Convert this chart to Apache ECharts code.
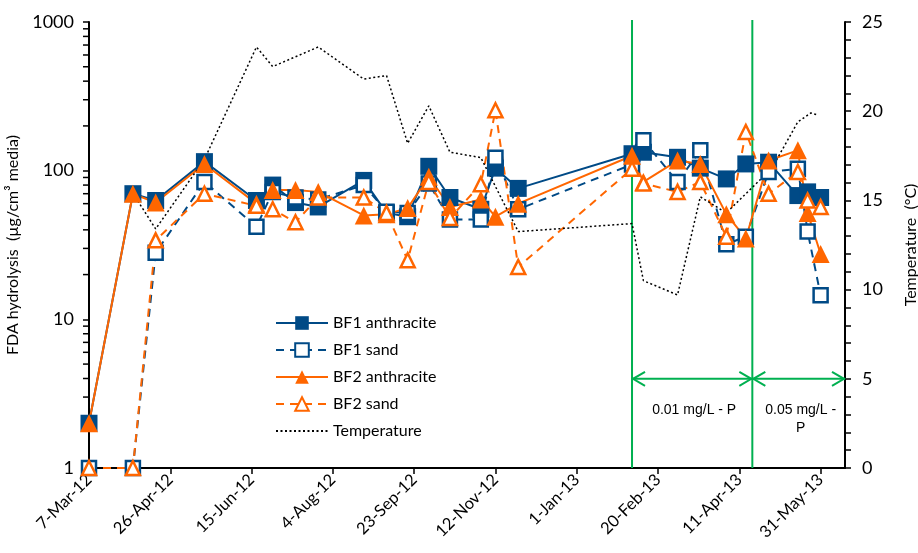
<!DOCTYPE html>
<html><head><meta charset="utf-8">
<script src="https://cdn.jsdelivr.net/npm/echarts@6/dist/echarts.min.js"></script>
<style>html,body{margin:0;padding:0;background:#fff}#c{width:918px;height:553px}</style>
</head><body><div id="c"></div>
<script>
const startDate = '2012-03-07';
const endDate = '2013-06-15';
const tickLabels = ['7-Mar-12','26-Apr-12','15-Jun-12','4-Aug-12','23-Sep-12','12-Nov-12','1-Jan-13','20-Feb-13','11-Apr-13','31-May-13'];
const sampleDates = ['2012-03-07','2012-04-03','2012-04-17','2012-05-17','2012-06-18','2012-06-28','2012-07-12','2012-07-26','2012-08-23','2012-09-06','2012-09-19','2012-10-02','2012-10-15','2012-11-03','2012-11-12','2012-11-26','2013-02-04','2013-02-11','2013-03-04','2013-03-18','2013-04-03','2013-04-15','2013-04-29','2013-05-17','2013-05-23','2013-05-31'];
const bf1Anthracite = [2, 70, 63, 115, 63, 80, 61, 57, 86, 52, 49, 107, 66, 55, 104, 76, 130, 133, 123, 104, 88, 111, 114, 68, 72, 66];
const bf1Sand = [1, 1, 28, 84, 42, 72, 66, 64, 80, 53, 52, 82, 47, 47, 122, 55, 110, 160, 84, 137, 32, 36, 98, 103, 39, 14.5];
const bf2Anthracite = [2, 70, 61, 111, 60, 74, 74, 72, 50, 51, 56, 91, 57, 64, 49, 60, 126, 84, 117, 111, 51, 35, 117, 137, 52, 27.5];
const bf2Sand = [1, 1, 34, 70, 58, 55, 45, 66, 66, 52, 25, 84, 48, 81, 255, 22.5, 103, 82, 72, 84, 36, 182, 70, 98, 63, 57];
const tempDates = ['2012-04-03','2012-04-17','2012-05-17','2012-06-18','2012-06-28','2012-07-26','2012-08-23','2012-09-06','2012-09-19','2012-10-02','2012-10-15','2012-11-03','2012-11-26','2013-02-04','2013-02-11','2013-03-04','2013-03-18','2013-04-03','2013-05-01','2013-05-17','2013-05-25','2013-05-29'];
const temperature = [15.4, 13.4, 17.3, 23.6, 22.5, 23.6, 21.8, 22.0, 18.2, 20.3, 17.7, 17.4, 13.25, 13.7, 10.5, 9.7, 15.2, 14.3, 16.8, 19.4, 19.9, 19.8];
const phaseDates = ['2013-02-04', '2013-04-19', '2013-06-15'];
const phaseLabels = ['0.01 mg/L - P', '0.05 mg/L -\nP'];
const phaseArrowTemp = 5;

const BLUE = '#004A86', ORANGE = '#FF6600', GREEN = '#00B050';
const FONT = 'Lato';
const day = s => (Date.parse(s) - Date.parse(startDate)) / 86400000;
const xMax = day(endDate);
const tickDays = tickLabels.map((_, i) => i * 50);
const pairs = (dates, vals) => dates.map((d, i) => [day(d), vals[i]]);
const minorTickValues = [];
[1, 10, 100].forEach(d => { for (let k = 2; k <= 9; k++) minorTickValues.push(d * k); });

const chart = echarts.init(document.getElementById('c'), null, {renderer: 'canvas'});
const axisLineStyle = {color: '#000', width: 2};
chart.setOption({
  animation: false,
  backgroundColor: '#fff',
  grid: {left: 89, right: 73, top: 22, bottom: 85, containLabel: false, outerBoundsMode: 'none'},
  legend: {
    data: ['BF1 anthracite', 'BF1 sand', 'BF2 anthracite', 'BF2 sand', {name: 'Temperature', itemStyle: {opacity: 0}}],
    orient: 'vertical', left: 270, top: 310, itemWidth: 52, itemHeight: 17, itemGap: 11,
    textStyle: {fontFamily: FONT, fontSize: 16, color: '#000'}
  },
  xAxis: {
    type: 'value', min: 0, max: xMax, interval: 50,
    splitLine: {show: false},
    axisLine: {show: true, onZero: false, lineStyle: axisLineStyle},
    axisTick: {show: true, length: 6, lineStyle: {color: '#000', width: 1.5}, customValues: tickDays},
    axisLabel: {customValues: tickDays, rotate: 45, margin: 9, fontFamily: FONT, fontSize: 16.5, color: '#000',
      formatter: v => tickLabels[Math.round(v / 50)] || ''}
  },
  yAxis: [{
    type: 'log', logBase: 10, min: 1, max: 1000,
    name: 'FDA hydrolysis  (µg/cm³ media)', nameLocation: 'middle', nameGap: 63, nameRotate: 90,
    nameTextStyle: {fontFamily: FONT, fontSize: 16, color: '#000'},
    splitLine: {show: false},
    axisLine: {show: true, onZero: false, lineStyle: axisLineStyle},
    axisTick: {show: true, length: 6, lineStyle: {color: '#000', width: 1.5}},
    axisLabel: {fontFamily: FONT, fontSize: 18, color: '#000', margin: 15, formatter: v => String(Math.round(v))}
  }, {
    type: 'value', min: 0, max: 25, interval: 5, position: 'right',
    name: 'Temperature  (°C)', nameLocation: 'middle', nameGap: 58, nameRotate: 90,
    nameTextStyle: {fontFamily: FONT, fontSize: 16, color: '#000'},
    splitLine: {show: false},
    axisLine: {show: true, onZero: false, lineStyle: axisLineStyle},
    axisTick: {show: true, length: 6, lineStyle: {color: '#000', width: 1.5}},
    minorTick: {show: true, splitNumber: 5, length: 6, lineStyle: {color: '#000', width: 1.5}},
    axisLabel: {fontFamily: FONT, fontSize: 18, color: '#000', margin: 17}
  }],
  series: [
    {
      name: 'minorTicks', type: 'custom', xAxisIndex: 0, yAxisIndex: 0, silent: true,
      data: minorTickValues.map(v => [0, v]),
      renderItem: (params, api) => {
        const p = api.coord([api.value(0), api.value(1)]);
        return {type: 'line', shape: {x1: p[0] - 6, y1: p[1], x2: p[0], y2: p[1]}, style: {stroke: '#000', lineWidth: 1.5}};
      }
    },
    {
      name: 'phases', type: 'custom', xAxisIndex: 0, yAxisIndex: 1, silent: true, z: 1,
      data: [[0, 0]],
      renderItem: (params, api) => {
        const xs = phaseDates.map(day);
        const children = [];
        const st = {stroke: GREEN, lineWidth: 2, fill: null};
        xs.slice(0, 2).forEach(x => {
          const a = api.coord([x, 0]), b = api.coord([x, 25]);
          children.push({type: 'line', shape: {x1: a[0], y1: a[1], x2: b[0], y2: b[1] - 2}, style: st});
        });
        for (let i = 0; i < 2; i++) {
          const a = api.coord([xs[i], phaseArrowTemp]), b = api.coord([xs[i + 1], phaseArrowTemp]);
          children.push({type: 'line', shape: {x1: a[0], y1: a[1], x2: b[0], y2: b[1]}, style: st});
          children.push({type: 'polyline', shape: {points: [[a[0] + 13, a[1] - 7], [a[0] + 1, a[1]], [a[0] + 13, a[1] + 7]]}, style: st});
          children.push({type: 'polyline', shape: {points: [[b[0] - 13, b[1] - 7], [b[0] - 1, b[1]], [b[0] - 13, b[1] + 7]]}, style: st});
          children.push({type: 'text', style: {text: phaseLabels[i], x: (a[0] + b[0]) / 2 + 2, y: a[1] + 22,
            align: 'center', verticalAlign: 'top', fill: '#000', font: '14px "Liberation Sans", Arial', lineHeight: 18}});
        }
        return {type: 'group', children};
      }
    },
    {
      name: 'BF1 anthracite', type: 'line', data: pairs(sampleDates, bf1Anthracite),
      symbol: 'rect', symbolSize: 17,
      itemStyle: {color: BLUE}, lineStyle: {color: BLUE, width: 2}
    },
    {
      name: 'BF1 sand', type: 'line', data: pairs(sampleDates, bf1Sand),
      symbol: 'rect', symbolSize: 14,
      itemStyle: {color: '#fff', borderColor: BLUE, borderWidth: 2.5}, lineStyle: {color: BLUE, width: 2, type: [8, 6]}
    },
    {
      name: 'BF2 anthracite', type: 'line', data: pairs(sampleDates, bf2Anthracite),
      symbol: 'triangle', symbolSize: 18,
      itemStyle: {color: ORANGE}, lineStyle: {color: ORANGE, width: 2}
    },
    {
      name: 'BF2 sand', type: 'line', data: pairs(sampleDates, bf2Sand),
      symbol: 'triangle', symbolSize: 14,
      itemStyle: {color: '#fff', borderColor: ORANGE, borderWidth: 2.5}, lineStyle: {color: ORANGE, width: 2, type: [8, 6]}
    },
    {
      name: 'Temperature', type: 'line', yAxisIndex: 1, data: pairs(tempDates, temperature),
      symbol: 'none', itemStyle: {color: '#000'}, lineStyle: {color: '#000', width: 1.5, type: [2, 2.5]}
    }
  ]
});
</script></body></html>
